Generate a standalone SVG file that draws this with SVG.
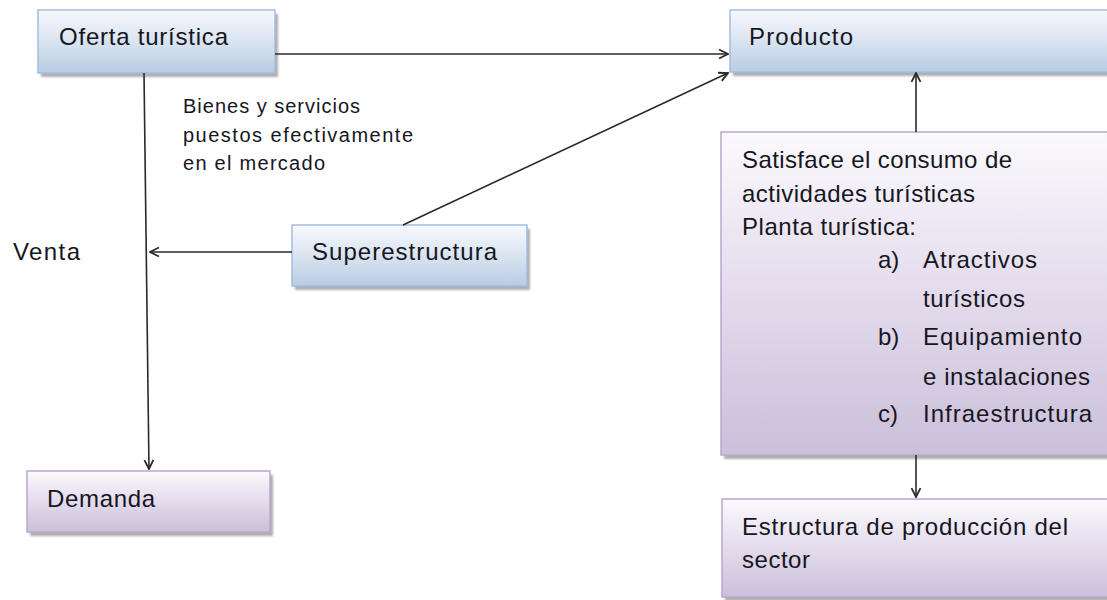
<svg xmlns="http://www.w3.org/2000/svg" width="1107" height="600" viewBox="0 0 1107 600">
<style>
text{font-family:"Liberation Sans",Arial,sans-serif;fill:#16161e;}
.lbl{font-size:24px;}
.sm{font-size:20px;}
.blue{fill:url(#gBlue);stroke:#a3bde0;stroke-width:1.5;}
.purple{fill:url(#gPurple);stroke:#b9a8cf;stroke-width:1.5;}
.shadow{fill:#8c8c8c;opacity:0.7;filter:url(#blur);}
.conn{stroke:#2a2a2a;stroke-width:1.6;fill:none;marker-end:url(#arr);}
</style>
<defs>
<linearGradient id="gBlue" x1="0" y1="0" x2="0" y2="1">
<stop offset="0" stop-color="#f7f9fd"/>
<stop offset="0.45" stop-color="#dde6f2"/>
<stop offset="1" stop-color="#b8cce4"/>
</linearGradient>
<linearGradient id="gPurple" x1="0" y1="0" x2="0" y2="1">
<stop offset="0" stop-color="#fbfafd"/>
<stop offset="0.45" stop-color="#e6deee"/>
<stop offset="1" stop-color="#cbbfda"/>
</linearGradient>
<filter id="blur" x="-5%" y="-5%" width="110%" height="120%"><feGaussianBlur stdDeviation="1.2"/></filter>
<marker id="arr" viewBox="0 0 10 10" refX="9" refY="5" markerWidth="7" markerHeight="7" orient="auto" markerUnits="strokeWidth">
<path d="M1,1 L9,5 L1,9" fill="none" stroke="#2a2a2a" stroke-width="1.6"/>
</marker>
</defs>

<g id="oferta">
<rect class="shadow" x="41" y="14" width="237" height="63"/>
<rect class="blue" x="38" y="10" width="237" height="63"/>
<text class="lbl" x="59" y="45" textLength="169" lengthAdjust="spacing">Oferta turística</text>
</g>

<g id="producto">
<rect class="shadow" x="733" y="14" width="390" height="62"/>
<rect class="blue" x="730" y="10" width="390" height="62"/>
<text class="lbl" x="749" y="45" textLength="104" lengthAdjust="spacing">Producto</text>
</g>

<g id="superestructura">
<rect class="shadow" x="295" y="229" width="235" height="61"/>
<rect class="blue" x="292" y="225" width="235" height="61"/>
<text class="lbl" x="312" y="260" textLength="185" lengthAdjust="spacing">Superestructura</text>
</g>

<g id="demanda">
<rect class="shadow" x="30" y="475" width="243" height="61"/>
<rect class="purple" x="27" y="471" width="243" height="61"/>
<text class="lbl" x="47" y="507" textLength="108" lengthAdjust="spacing">Demanda</text>
</g>

<g id="satisface">
<rect class="shadow" x="724" y="136" width="400" height="323"/>
<rect class="purple" x="721" y="132" width="400" height="323"/>
<text class="lbl" x="742" y="168" textLength="270" lengthAdjust="spacing">Satisface el consumo de</text>
<text class="lbl" x="742" y="202" textLength="233" lengthAdjust="spacing">actividades turísticas</text>
<text class="lbl" x="742" y="235" textLength="174" lengthAdjust="spacing">Planta turística:</text>
<text class="lbl" x="878" y="268">a)</text>
<text class="lbl" x="923" y="268" textLength="114" lengthAdjust="spacing">Atractivos</text>
<text class="lbl" x="923" y="307" textLength="102" lengthAdjust="spacing">turísticos</text>
<text class="lbl" x="878" y="345">b)</text>
<text class="lbl" x="923" y="345" textLength="159" lengthAdjust="spacing">Equipamiento</text>
<text class="lbl" x="923" y="385" textLength="167" lengthAdjust="spacing">e instalaciones</text>
<text class="lbl" x="878" y="422">c)</text>
<text class="lbl" x="923" y="422" textLength="169" lengthAdjust="spacing">Infraestructura</text>
</g>

<g id="estructura">
<rect class="shadow" x="725" y="503" width="400" height="98"/>
<rect class="purple" x="722" y="499" width="400" height="98"/>
<text class="lbl" x="742" y="535" textLength="326" lengthAdjust="spacing">Estructura de producción del</text>
<text class="lbl" x="742" y="568" textLength="68" lengthAdjust="spacing">sector</text>
</g>

<g id="labels">
<text class="sm" x="183" y="113" textLength="177" lengthAdjust="spacing">Bienes y servicios</text>
<text class="sm" x="183" y="142" textLength="230" lengthAdjust="spacing">puestos efectivamente</text>
<text class="sm" x="183" y="170" textLength="142" lengthAdjust="spacing">en el mercado</text>
<text class="lbl" x="13" y="260" textLength="67" lengthAdjust="spacing">Venta</text>
</g>

<g id="connectors">
<line class="conn" x1="275" y1="54" x2="728" y2="54"/>
<line class="conn" x1="403" y1="225" x2="728" y2="73"/>
<line class="conn" x1="144" y1="73" x2="149" y2="469"/>
<line class="conn" x1="292" y1="252" x2="150" y2="252"/>
<line class="conn" x1="916" y1="132" x2="916" y2="73"/>
<line class="conn" x1="916" y1="455" x2="916" y2="497"/>
</g>
</svg>
